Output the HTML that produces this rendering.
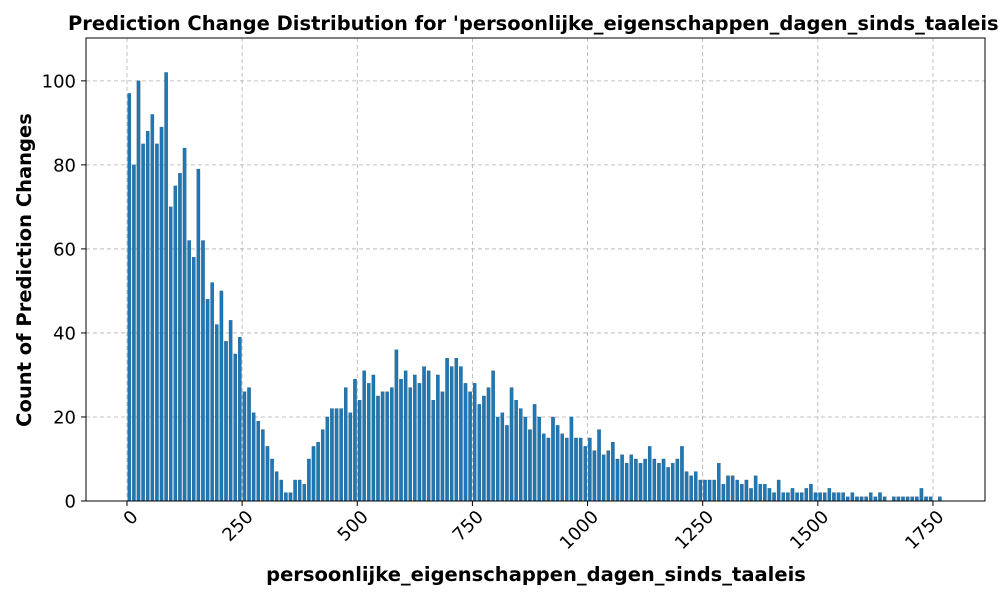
<!DOCTYPE html>
<html><head><meta charset="utf-8"><style>
body{margin:0;background:#fff;}
svg text{font-family:"DejaVu Sans","Liberation Sans",sans-serif;}
</style></head><body>
<svg id="chart" width="1000" height="600" xmlns="http://www.w3.org/2000/svg">
<rect width="1000" height="600" fill="#fff"/>
<g id="grid"></g>
<g id="bars"></g>
<rect x="86" y="38" width="899" height="463" fill="none" stroke="#000" stroke-width="1"/>
<g id="xticks"></g>
<g id="yticks"></g>
<text x="68" y="30" font-size="19.5" font-weight="bold">Prediction Change Distribution for 'persoonlijke_eigenschappen_dagen_sinds_taaleis'</text>
<text x="536" y="581" font-size="19.5" font-weight="bold" text-anchor="middle">persoonlijke_eigenschappen_dagen_sinds_taaleis</text>
<text transform="translate(31,270) rotate(-90)" font-size="19.5" font-weight="bold" text-anchor="middle">Count of Prediction Changes</text>
</svg>
<script>
const binStart = 0, binStep = 10;
const counts = [97,80,100,85,88,92,85,89,102,70,75,78,84,62,58,79,62,48,52,42,50,38,43,35,39,26,27,21,19,17,13,10,7,5,2,2,5,5,4,10,13,14,17,20,22,22,22,27,21,29,24,31,28,30,25,26,26,27,36,29,31,27,30,28,32,31,24,30,26,34,32,34,32,28,26,28,23,25,27,31,20,21,18,27,24,22,20,17,23,20,16,15,20,18,16,15,20,15,15,13,15,12,17,11,12,14,10,11,9,11,10,9,10,13,10,9,10,8,9,10,13,7,6,7,5,5,5,5,9,4,6,6,5,4,5,3,6,4,4,3,2,5,2,2,3,2,2,3,4,2,2,2,3,2,2,2,1,2,1,1,1,2,1,2,1,0,1,1,1,1,1,1,3,1,1,0,1];
const xTicks = [0,250,500,750,1000,1250,1500,1750];
const yTicks = [0,20,40,60,80,100];
const X0=86,X1=985,Y0=501,Y1=38, xmin=-89, xmax=1863, ymax=110.2;
const sx=v=>X0+(v-xmin)/(xmax-xmin)*(X1-X0);
const sy=v=>Y0-v/ymax*(Y0-Y1);
const NS="http://www.w3.org/2000/svg";
function mk(t,a,p){const e=document.createElementNS(NS,t);for(const k in a)e.setAttribute(k,a[k]);p.appendChild(e);return e;}
const grid=document.getElementById('grid'),bars=document.getElementById('bars'),xt=document.getElementById('xticks'),yt=document.getElementById('yticks');
xTicks.forEach(v=>{const x=sx(v);
 const g=mk('line',{x1:x,x2:x,y1:Y1,y2:Y0,stroke:'#b0b0b0','stroke-dasharray':'4,3','stroke-width':0.8},grid);
 
 
 mk('line',{x1:x,x2:x,y1:Y0,y2:Y0+5,stroke:'#000'},xt);
 const t=mk('text',{x:x+7,y:Y0+19,'font-size':18,'text-anchor':'end',transform:`rotate(-45 ${x+7} ${Y0+12})`},xt);
 t.textContent=v;
 
 
});
yTicks.forEach(v=>{const y=sy(v);
 const g=mk('line',{x1:X0,x2:X1,y1:y,y2:y,stroke:'#b0b0b0','stroke-dasharray':'4,3','stroke-width':0.8},grid);
 
 
 mk('line',{x1:X0-5,x2:X0,y1:y,y2:y,stroke:'#000'},yt);
 const t=mk('text',{x:X0-10,y:y+6.5,'font-size':18,'text-anchor':'end'},yt);
 t.textContent=v;
 
 
});
const w=(sx(binStep)-sx(0))*0.7;
counts.forEach((c,i)=>{const v=binStart+i*binStep;const x=sx(v)-w/2+ (sx(binStep)-sx(0))/2;
 const r=mk('rect',{x:x,y:sy(c),width:w,height:Y0-sy(c),fill:'#1f77b4',stroke:'#1a4f78','stroke-width':0.3},bars);
 
 
});
</script>
</body></html>
